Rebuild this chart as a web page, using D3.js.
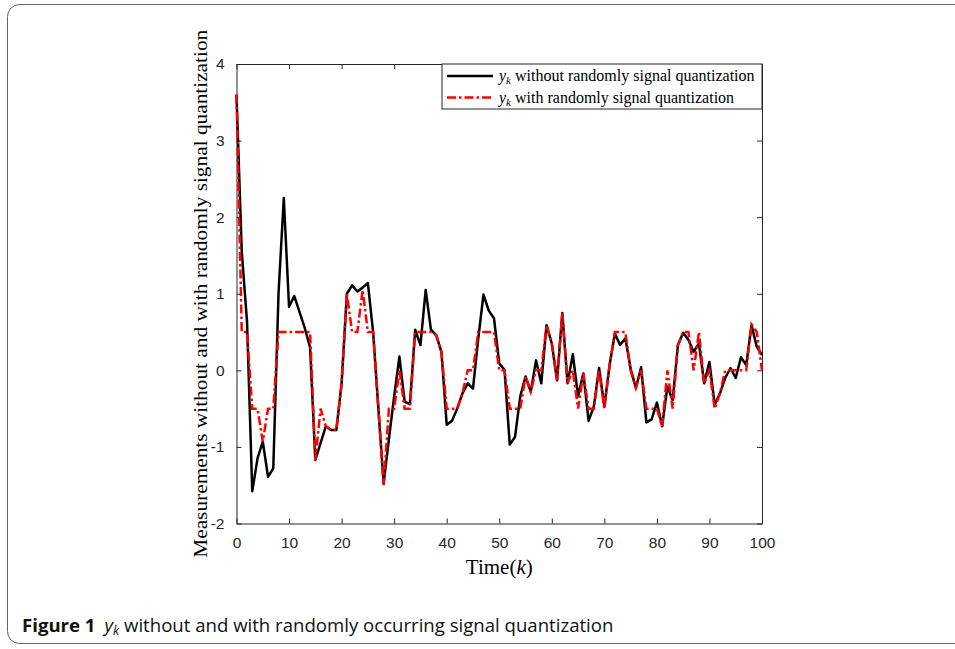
<!DOCTYPE html>
<html>
<head>
<meta charset="utf-8">
<script src="https://cdn.jsdelivr.net/npm/d3@7"></script>
<style>
  body { margin: 0; background: #fff; }
  svg { display: block; }
</style>
</head>
<body>
<div id="chart"></div>
<script>
// data, k = 0..100
var steps = d3.range(0, 101);

var yNoQuant = [3.6, 1.55, 0.64, -1.58, -1.15, -0.93, -1.39, -1.28, 1.01, 2.25,
  0.83, 0.97, 0.76, 0.55, 0.30, -1.17, -0.95, -0.73, -0.78, -0.78,
  -0.17, 1.00, 1.11, 1.03, 1.08, 1.14, 0.50, -0.50, -1.48, -0.90,
  -0.34, 0.18, -0.41, -0.44, 0.53, 0.33, 1.05, 0.53, 0.46, 0.24,
  -0.71, -0.66, -0.50, -0.30, -0.17, -0.24, 0.41, 0.99, 0.78, 0.68,
  0.09, 0.01, -0.97, -0.87, -0.34, -0.08, -0.28, 0.13, -0.17, 0.59,
  0.35, -0.13, 0.75, -0.17, 0.21, -0.34, -0.04, -0.66, -0.47, 0.03,
  -0.47, 0.07, 0.48, 0.33, 0.42, 0.02, -0.23, 0.04, -0.68, -0.64,
  -0.42, -0.73, -0.21, -0.39, 0.33, 0.49, 0.40, 0.24, 0.35, -0.17,
  0.11, -0.45, -0.30, -0.10, 0.03, -0.10, 0.17, 0.07, 0.59, 0.31,
  0.20];

var yQuant = [3.6, 0.5, 0.5, -0.5, -0.5, -0.93, -0.5, -0.5, 0.5, 0.5,
  0.5, 0.5, 0.5, 0.5, 0.5, -1.17, -0.5, -0.73, -0.78, -0.78,
  -0.17, 1.0, 0.5, 0.5, 1.05, 0.5, 0.5, -0.5, -1.5, -0.5,
  -0.5, 0, -0.5, -0.5, 0.5, 0.5, 0.5, 0.5, 0.46, 0.24,
  -0.5, -0.5, -0.5, -0.3, 0, 0, 0.5, 0.5, 0.5, 0.5,
  0, 0, -0.5, -0.5, -0.5, -0.08, -0.28, 0, 0, 0.59,
  0.35, -0.13, 0.75, -0.17, 0, -0.5, -0.04, -0.5, -0.5, 0,
  -0.5, 0.07, 0.5, 0.5, 0.5, 0, -0.23, 0, -0.5, -0.5,
  -0.5, -0.73, 0, -0.5, 0.33, 0.5, 0.5, 0, 0.5, -0.17,
  0, -0.5, -0.3, 0, 0, 0, 0, 0, 0.6, 0.5,
  0];

var xTicks = [0, 10, 20, 30, 40, 50, 60, 70, 80, 90, 100];
var yTicks = [-2, -1, 0, 1, 2, 3, 4];

var svgWidth = 955;
var svgHeight = 649;

var margin = { top: 64, right: 193, bottom: 125.5, left: 236.5 };
var width = svgWidth - margin.left - margin.right;
var height = svgHeight - margin.top - margin.bottom;

var svg = d3.select("#chart")
  .append("svg")
  .attr("width", svgWidth)
  .attr("height", svgHeight);

// outer figure frame
svg.append("rect")
  .attr("x", 7.5)
  .attr("y", 4.5)
  .attr("width", 1000)
  .attr("height", 639)
  .attr("rx", 12)
  .attr("fill", "none")
  .attr("stroke", "#666")
  .attr("stroke-width", 1);

var chartGroup = svg.append("g")
  .attr("transform", `translate(${margin.left}, ${margin.top})`);

var x = d3.scaleLinear().domain([0, 100]).range([0, width]);
var y = d3.scaleLinear().domain([-2, 4]).range([height, 0]);

// axes with inward ticks, matlab style
var tickFont = "'Liberation Sans', Arial, sans-serif";
var plainNum = function(d) { return String(d); };

var bottomAxis = chartGroup.append("g")
  .attr("transform", `translate(0, ${height})`)
  .call(d3.axisBottom(x).tickValues(xTicks).tickFormat(plainNum)
    .tickSizeInner(-5).tickSizeOuter(0).tickPadding(13));

var leftAxis = chartGroup.append("g")
  .call(d3.axisLeft(y).tickValues(yTicks).tickFormat(plainNum)
    .tickSizeInner(-5).tickSizeOuter(0).tickPadding(12));

var topAxis = chartGroup.append("g")
  .call(d3.axisTop(x).tickValues(xTicks).tickSizeInner(-5).tickSizeOuter(0).tickFormat(""));

var rightAxis = chartGroup.append("g")
  .attr("transform", `translate(${width}, 0)`)
  .call(d3.axisRight(y).tickValues(yTicks).tickSizeInner(-5).tickSizeOuter(0).tickFormat(""));

[bottomAxis, leftAxis, topAxis, rightAxis].forEach(function(ax) {
  ax.select(".domain").attr("stroke", "#262626").attr("stroke-width", 1);
  ax.selectAll(".tick line").attr("stroke", "#262626");
  ax.selectAll("text")
    .attr("font-family", tickFont)
    .attr("font-size", "15.5px")
    .attr("fill", "#262626");
});

// lines
var line = d3.line()
  .x(function(d, i) { return x(steps[i]); })
  .y(function(d) { return y(d); });

chartGroup.append("path")
  .datum(yNoQuant)
  .attr("d", line)
  .attr("fill", "none")
  .attr("stroke", "black")
  .attr("stroke-width", 2.5)
  .attr("stroke-linejoin", "round");

chartGroup.append("path")
  .datum(yQuant)
  .attr("d", line)
  .attr("fill", "none")
  .attr("stroke", "#ff0000")
  .attr("stroke-width", 2.5)
  .attr("stroke-dasharray", "9,3,2.5,3");

// legend
var legend = chartGroup.append("g")
  .attr("transform", `translate(${width - 320}, 0)`);

legend.append("rect")
  .attr("x", 0)
  .attr("y", 0)
  .attr("width", 320)
  .attr("height", 45)
  .attr("fill", "white")
  .attr("stroke", "#262626")
  .attr("stroke-width", 1);

var legendItems = [
  { label: "without randomly signal quantization", color: "black", dash: null },
  { label: "with randomly signal quantization", color: "#ff0000", dash: "9,3,2.5,3" }
];

legendItems.forEach(function(item, i) {
  var yy = 12 + i * 21.5;
  legend.append("line")
    .attr("x1", 5).attr("x2", 51)
    .attr("y1", yy).attr("y2", yy)
    .attr("stroke", item.color)
    .attr("stroke-width", 2.5)
    .attr("stroke-dasharray", item.dash);
  var t = legend.append("text")
    .attr("x", 57)
    .attr("y", yy + 5)
    .attr("font-family", "'Liberation Serif', serif")
    .attr("font-size", "16px")
    .attr("fill", "black");
  t.append("tspan").attr("font-style", "italic").text("y");
  t.append("tspan").attr("font-style", "italic").attr("font-size", "11px").attr("dy", 3).text("k");
  t.append("tspan").attr("dy", -3).text(" " + item.label);
});

// axis labels
svg.append("text")
  .attr("x", margin.left + width / 2)
  .attr("y", 574)
  .attr("text-anchor", "middle")
  .attr("font-family", "'Liberation Serif', serif")
  .attr("font-size", "21px")
  .call(function(t) {
    t.append("tspan").text("Time(");
    t.append("tspan").attr("font-style", "italic").text("k");
    t.append("tspan").text(")");
  });

svg.append("text")
  .attr("transform", "rotate(-90)")
  .attr("x", -(margin.top + height / 2))
  .attr("y", 207)
  .attr("text-anchor", "middle")
  .attr("font-family", "'Liberation Serif', serif")
  .attr("font-size", "18px")
  .attr("textLength", 528)
  .attr("lengthAdjust", "spacingAndGlyphs")
  .text("Measurements without and with randomly signal quantization");

// caption
var caption = svg.append("text")
  .attr("x", 22)
  .attr("y", 632)
  .attr("font-family", "'Open Sans', 'Noto Sans', sans-serif")
  .attr("font-size", "18.6px")
  .attr("fill", "#111");
caption.append("tspan").attr("font-weight", "bold").text("Figure 1");
caption.append("tspan").attr("dx", 9).attr("font-style", "italic").text("y");
caption.append("tspan").attr("font-style", "italic").attr("font-size", "12.5px").attr("dy", 3).text("k");
caption.append("tspan").attr("dy", -3).text(" without and with randomly occurring signal quantization");
</script>
</body>
</html>
